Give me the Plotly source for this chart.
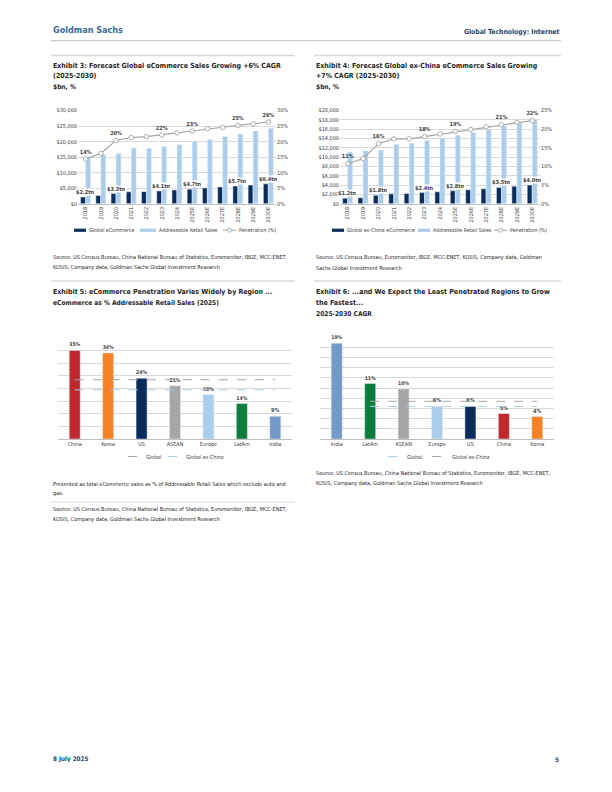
import plotly.graph_objects as go

W, H = 612, 792


def fx(x):
    return x / W


def fy(y):
    return 1 - y / H


FONT = "Liberation Sans Narrow, Arial Narrow, DejaVu Sans Condensed, sans-serif"
TXT = '#262626'
LBL = '#404040'
GRID = '#D9D9D9'
NAVY = '#0B2D5B'
LIGHT = '#A9CDEB'
PEN = '#A6A6A6'
HEAD_BLUE = '#3A6A96'
FOOT_BLUE = '#1F3F66'

# ---------------- data ----------------
years = ['2018', '2019', '2020', '2021', '2022', '2023', '2024',
         '2025E', '2026E', '2027E', '2028E', '2029E', '2030E']

# Exhibit 3 ($bn, %)
ex3_ecom = [2200, 2650, 3300, 3850, 3900, 4100, 4450, 4700, 5100, 5400, 5700, 6000, 6400]
ex3_retail = [15150, 15850, 16150, 17950, 17750, 18400, 19000, 20000, 20650, 21600, 22450, 23400, 24250]
ex3_pen = [14.4, 16.2, 20.4, 21.3, 21.6, 22.1, 22.8, 23.4, 24.1, 24.6, 25.2, 25.7, 26.3]
ex3_labelled = ['2018', '2020', '2023', '2025E', '2028E', '2030E']

# Exhibit 4 ($bn, %)
ex4_ecom = [1200, 1280, 1800, 2130, 2200, 2400, 2550, 2800, 3000, 3200, 3500, 3750, 4000]
ex4_retail = [11100, 11350, 11500, 12750, 12950, 13550, 14100, 14700, 15300, 15900, 16650, 17300, 18000]
ex4_pen = [10.8, 12.1, 16.1, 17.4, 17.4, 18.0, 18.7, 19.4, 19.9, 20.6, 21.2, 21.8, 22.3]
ex4_labelled = ['2018', '2020', '2023', '2025E', '2028E', '2030E']

# Exhibit 5 (% of addressable retail sales, 2025)
ex5_regions = ['China', 'Korea', 'US', 'ASEAN', 'Europe', 'LatAm', 'India']
ex5_pen = [35, 34, 24, 21, 17.6, 14, 9]
ex5_global = 23.4
ex5_global_exchina = 19.4

# Exhibit 6 (2025-2030 CAGR, %)
ex6_regions = ['India', 'LatAm', 'ASEAN', 'Europe', 'US', 'China', 'Korea']
ex6_cagr = [18.8, 10.9, 9.8, 6.4, 6.4, 5.0, 4.4]
ex6_global = 6.4
ex6_global_exchina = 7.4

region_colors = {
    'China': '#C0282E', 'Korea': '#F58025', 'US': '#0B2D5B', 'ASEAN': '#A6A6A6',
    'Europe': '#A9CDEB', 'LatAm': '#0E7C3A', 'India': '#7399C6',
}

fig = go.Figure()
annotations = []
shapes = []
tickf = dict(size=5.5, color=LBL, family=FONT)
lblf = dict(size=5.5, color=LBL, family=FONT)
year_pos = list(range(len(years)))


def add_combo(xa, ya, ya2, ecom, retail, pen, labelled, ecom_name):
    fig.add_bar(x=year_pos, y=ecom, name=ecom_name, marker_color=NAVY, width=0.32, offset=-0.33,
                xaxis=xa, yaxis=ya, showlegend=False)
    fig.add_bar(x=year_pos, y=retail, name='Addressable Retail Sales', marker_color=LIGHT, width=0.32,
                offset=0.0, xaxis=xa, yaxis=ya, showlegend=False)
    fig.add_scatter(x=year_pos, y=pen, name='Penetration (%)', mode='lines+markers+text',
                    text=[f"<b>{v:.0f}%</b>" if yr in labelled else '' for yr, v in zip(years, pen)],
                    textposition='top center', textfont=lblf, cliponaxis=False,
                    line=dict(color=PEN, width=1.2),
                    marker=dict(symbol='circle', size=4.5, color='white', line=dict(color=PEN, width=0.9)),
                    xaxis=xa, yaxis=ya2, showlegend=False)
    for p, yr, v in zip(year_pos, years, ecom):
        if yr in labelled:
            annotations.append(dict(x=p, y=v, xref=xa, yref=ya, text=f"<b>${v / 1000:.1f}tn</b>",
                                    showarrow=False, yanchor='bottom', yshift=1, font=lblf,
                                    bgcolor='white', borderpad=0))


add_combo('x', 'y', 'y2', ex3_ecom, ex3_retail, ex3_pen, ex3_labelled, 'Global eCommerce')
add_combo('x3', 'y3', 'y4', ex4_ecom, ex4_retail, ex4_pen, ex4_labelled, 'Global ex-China eCommerce')

# Exhibit 5
fig.add_bar(x=ex5_regions, y=ex5_pen, marker_color=[region_colors[r] for r in ex5_regions], width=0.33,
            texttemplate='<b>%{y:.0f}%</b>', textposition='outside', textfont=lblf, cliponaxis=False,
            showlegend=False, xaxis='x5', yaxis='y5')
fig.add_scatter(x=ex5_regions, y=[ex5_global] * len(ex5_regions), name='Global', mode='lines',
                line=dict(color=PEN, width=1, dash='dash'), xaxis='x5', yaxis='y5', showlegend=False)
fig.add_scatter(x=ex5_regions, y=[ex5_global_exchina] * len(ex5_regions), name='Global ex-China',
                mode='lines', line=dict(color=LIGHT, width=1, dash='dash'), xaxis='x5', yaxis='y5',
                showlegend=False)

# Exhibit 6
fig.add_scatter(x=ex6_regions[1:], y=[ex6_global] * len(ex6_regions[1:]), name='Global', mode='lines',
                line=dict(color=LIGHT, width=1, dash='dash'), xaxis='x6', yaxis='y6', showlegend=False)
fig.add_scatter(x=ex6_regions[1:], y=[ex6_global_exchina] * len(ex6_regions[1:]), name='Global ex-China',
                mode='lines', line=dict(color=PEN, width=1, dash='dash'), xaxis='x6', yaxis='y6',
                showlegend=False)
fig.add_bar(x=ex6_regions, y=ex6_cagr, marker_color=[region_colors[r] for r in ex6_regions], width=0.33,
            texttemplate='<b>%{y:.0f}%</b>', textposition='outside', textfont=lblf, cliponaxis=False,
            showlegend=False, xaxis='x6', yaxis='y6')


# ---------------- text ----------------
def txt(x, y, s, size=5.5, bold=False, color=TXT, anchor='left'):
    annotations.append(dict(x=fx(x), y=fy(y), xref='paper', yref='paper', text=(f"<b>{s}</b>" if bold else s),
                            showarrow=False, xanchor=anchor, yanchor='middle',
                            font=dict(family=FONT, size=size, color=color)))


def rule(x0, x1, y, color='#D9D9D9', width=1.5):
    shapes.append(dict(type='line', xref='paper', yref='paper', x0=fx(x0), x1=fx(x1), y0=fy(y), y1=fy(y),
                       line=dict(color=color, width=width)))


# manual legend keys
def key_box(x0, x1, y, color):
    shapes.append(dict(type='rect', xref='paper', yref='paper', x0=fx(x0), x1=fx(x1), y0=fy(y + 1.6),
                       y1=fy(y - 1.6), line=dict(width=0), fillcolor=color))


def key_line(x0, x1, y, color, dash='solid', marker=False):
    shapes.append(dict(type='line', xref='paper', yref='paper', x0=fx(x0), x1=fx(x1), y0=fy(y), y1=fy(y),
                       line=dict(color=color, width=1, dash=dash)))
    if marker:
        xm = (x0 + x1) / 2
        shapes.append(dict(type='circle', xref='paper', yref='paper', x0=fx(xm - 2), x1=fx(xm + 2),
                           y0=fy(y + 2), y1=fy(y - 2), line=dict(color=color, width=0.9), fillcolor='white'))


txt(51, 27, 'Goldman Sachs', 9, True, HEAD_BLUE)
txt(561, 29, 'Global Technology: Internet', 6.8, True, FOOT_BLUE, 'right')

txt(51, 63, 'Exhibit 3: Forecast Global eCommerce Sales Growing +6% CAGR', 7, True)
txt(51, 74, '(2025-2030)', 7, True)
txt(51, 85, '$bn, %', 6.6, True)
txt(314, 63, 'Exhibit 4: Forecast Global ex-China eCommerce Sales Growing', 7, True)
txt(314, 74, '+7% CAGR (2025-2030)', 7, True)
txt(314, 85, '$bn, %', 6.6, True)

# legends for exhibits 3 & 4
key_box(74, 86, 229, NAVY)
txt(87, 229, 'Global eCommerce', 5.3, False, LBL)
key_box(140, 156, 229, LIGHT)
txt(157, 229, 'Addressable Retail Sales', 5.3, False, LBL)
key_line(223, 236, 229, PEN, marker=True)
txt(237, 229, 'Penetration (%)', 5.3, False, LBL)

key_box(332, 344, 229, NAVY)
txt(345, 229, 'Global ex-China eCommerce', 5.3, False, LBL)
key_box(418, 430, 229, LIGHT)
txt(431, 229, 'Addressable Retail Sales', 5.3, False, LBL)
key_line(494, 507, 229, PEN, marker=True)
txt(508, 229, 'Penetration (%)', 5.3, False, LBL)

txt(51, 256, 'Source: US Census Bureau, China National Bureau of Statistics, Euromonitor, IBGE, MCC-ENET,')
txt(51, 267, 'KOSIS, Company data, Goldman Sachs Global Investment Research')
txt(314, 256, 'Source: US Census Bureau, Euromonitor, IBGE, MCC-ENET, KOSIS, Company data, Goldman')
txt(314, 267, 'Sachs Global Investment Research')

txt(51, 291, 'Exhibit 5: eCommerce Penetration Varies Widely by Region ...', 7, True)
txt(51, 302, 'eCommerce as % Addressable Retail Sales (2025)', 6.6, True)
txt(314, 291, 'Exhibit 6: ...and We Expect the Least Penetrated Regions to Grow', 7, True)
txt(314, 302, 'the Fastest...', 7, True)
txt(314, 313, '2025-2030 CAGR', 6.6, True)

# legends for exhibits 5 & 6
key_line(128, 143, 457, PEN, dash='dash')
txt(144, 457, 'Global', 5.3, False, LBL)
key_line(168, 183, 457, LIGHT, dash='dash')
txt(184, 457, 'Global ex-China', 5.3, False, LBL)

key_line(388, 404, 457, LIGHT, dash='dash')
txt(405, 457, 'Global', 5.3, False, LBL)
key_line(432, 449, 457, PEN, dash='dash')
txt(450, 457, 'Global ex-China', 5.3, False, LBL)

txt(51, 485, 'Presented as total eCommerce sales as % of Addressable Retail Sales which exclude auto and')
txt(51, 494, 'gas.')
txt(51, 510, 'Source: US Census Bureau, China National Bureau of Statistics, Euromonitor, IBGE, MCC-ENET,')
txt(51, 520, 'KOSIS, Company data, Goldman Sachs Global Investment Research')
txt(314, 474, 'Source: US Census Bureau, China National Bureau of Statistics, Euromonitor, IBGE, MCC-ENET,')
txt(314, 484, 'KOSIS, Company data, Goldman Sachs Global Investment Research')

txt(51, 762, '8 July 2025', 6.3, True, FOOT_BLUE)
txt(561, 762, '5', 6.3, True, FOOT_BLUE, 'right')

rule(51, 561, 38, '#BFBFBF', 1)
rule(51, 295, 53)
rule(314, 561, 53)
rule(51, 295, 280)
rule(314, 561, 280)
rule(51, 295, 503, '#D9D9D9', 1)

xnum = dict(tickmode='array', tickvals=year_pos, ticktext=years, range=[-0.5, len(years) - 0.5],
            tickangle=-90, tickfont=tickf, showline=True, linecolor='#BFBFBF', linewidth=0.8, ticks='',
            showgrid=False, zeroline=False)
ycommon = dict(showgrid=True, gridcolor=GRID, gridwidth=0.6, zeroline=False, tickfont=tickf, ticks='')


def xcat(cats):
    return dict(type='category', categoryorder='array', categoryarray=cats, range=[-0.5, len(cats) - 0.5],
                tickfont=tickf, showline=True, linecolor='#BFBFBF', linewidth=0.8, ticks='',
                showgrid=False, zeroline=False)


fig.update_layout(
    width=W, height=H, margin=dict(l=0, r=0, t=0, b=0), paper_bgcolor='white', plot_bgcolor='white',
    barmode='overlay', font=dict(family=FONT, color=TXT), showlegend=False,
    xaxis=dict(domain=[fx(78), fx(276)], anchor='y', **xnum),
    yaxis=dict(domain=[fy(202.3), fy(108.3)], anchor='x', range=[0, 30000], dtick=5000, tickprefix='$',
               tickformat=',', **ycommon),
    yaxis2=dict(overlaying='y', side='right', anchor='x', range=[0, 30], dtick=5, ticksuffix='%',
                showgrid=False, zeroline=False, tickfont=tickf, ticks=''),
    xaxis3=dict(domain=[fx(340), fx(540)], anchor='y3', **xnum),
    yaxis3=dict(domain=[fy(202.3), fy(108.3)], anchor='x3', range=[0, 20000], dtick=2000, tickprefix='$',
                tickformat=',', **ycommon),
    yaxis4=dict(overlaying='y3', side='right', anchor='x3', range=[0, 25], dtick=5, ticksuffix='%',
                showgrid=False, zeroline=False, tickfont=tickf, ticks=''),
    xaxis5=dict(domain=[fx(58), fx(292)], anchor='y5', **xcat(ex5_regions)),
    yaxis5=dict(domain=[fy(439.3), fy(337.3)], anchor='x5', range=[0, 40], dtick=5, showticklabels=False,
                **ycommon),
    xaxis6=dict(domain=[fx(320), fx(554)], anchor='y6', **xcat(ex6_regions)),
    yaxis6=dict(domain=[fy(439.3), fy(336.7)], anchor='x6', range=[0, 20], dtick=2, showticklabels=False,
                **ycommon),
    annotations=annotations,
    shapes=shapes,
)

fig.write_html("out.html", config={'displayModeBar': False},
               post_script="document.body.style.margin='0px';document.body.style.overflow='hidden';")
